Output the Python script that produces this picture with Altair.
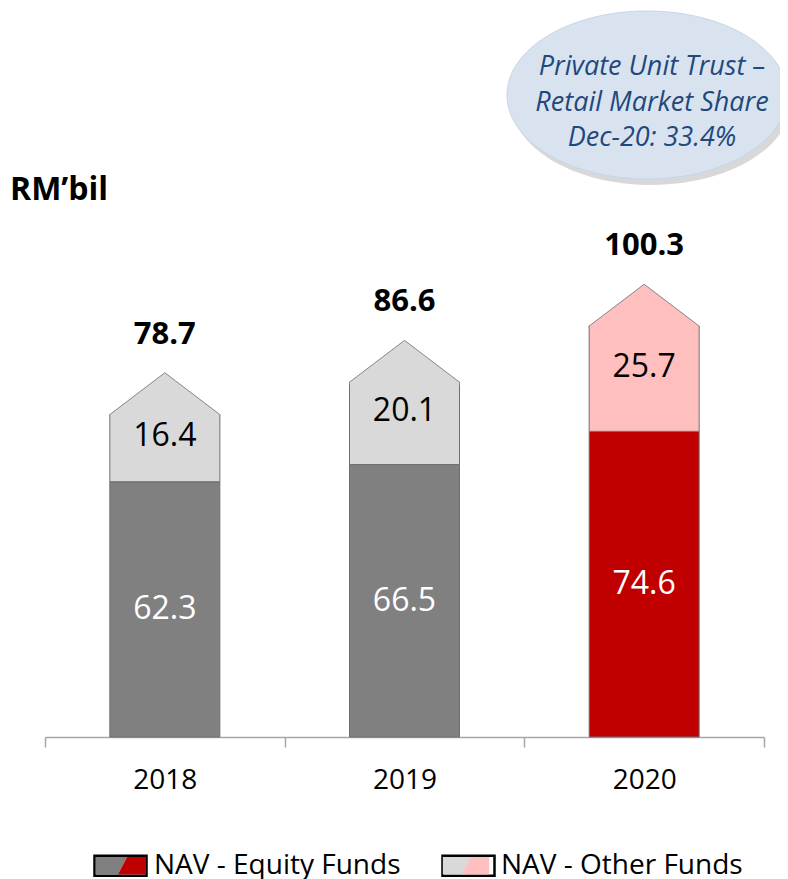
import altair as alt
import pandas as pd

# ---------------- data ----------------
years = ["2018", "2019", "2020"]
equity = [62.3, 66.5, 74.6]
other = [16.4, 20.1, 25.7]
totals = [78.7, 86.6, 100.3]
series = ["NAV - Equity Funds", "NAV - Other Funds"]
callout_lines = ["Private Unit Trust –", "Retail Market Share", "Dec-20: 33.4%"]
unit_label = ["RM’bil"]
highlight_year = "2020"

# ---------------- style ----------------
FONT = "Open Sans"
GRAY_EQ, GRAY_OT = "#808080", "#d9d9d9"
RED_EQ, RED_OT = "#c00000", "#ffbfbf"

ROOF = "M-1,0.04L-1,0L0,-0.76L1,0L1,0.04"
r = 0.6
k = 0.5523
ELLIPSE = (f"M1,0C1,{k*r:.4f} {k},{r} 0,{r}C{-k},{r} -1,{k*r:.4f} -1,0"
           f"C-1,{-k*r:.4f} {-k},{-r} 0,{-r}C{k},{-r} 1,{-k*r:.4f} 1,0Z")
H = 0.34
LEFT = f"M-0.95,{-H}L0.25,{-H}L-0.1,{H}L-0.95,{H}Z"
RIGHT = f"M0.25,{-H}L0.95,{-H}L0.95,{H}L-0.1,{H}Z"
RECT = "M-1,-0.385L1,-0.385L1,0.385L-1,0.385Z"

rows = []
for yr, e, o, t in zip(years, equity, other, totals):
    hi = yr == highlight_year
    rows.append(dict(year=yr, start=0.0, end=e, hex=RED_EQ if hi else GRAY_EQ))
    rows.append(dict(year=yr, start=e, end=t, hex=RED_OT if hi else GRAY_OT))
bars_df = pd.DataFrame(rows)

tot_df = pd.DataFrame(dict(year=years, equity=equity, other=other, total=totals,
                           hex=[RED_OT if y == highlight_year else GRAY_OT for y in years]))
tot_df["eq_mid"] = tot_df["equity"] / 2
tot_df["ot_mid"] = (tot_df["equity"] + tot_df["total"]) / 2

one_df = pd.DataFrame({"t": unit_label})
leg_df = pd.DataFrame({"s1": series, "s2": series, "s3": series})

# ---------------- chart ----------------
x_enc = alt.X("year:N",
              scale=alt.Scale(domain=years, paddingInner=0, paddingOuter=0),
              axis=alt.Axis(title=None, labelAngle=0, labelFont=FONT, labelFontSize=28,
                            labelColor="#000000", domainColor="#a6a6a6", domainWidth=1.5,
                            tickColor="#a6a6a6", tickWidth=1.5, tickSize=10,
                            tickBand="extent", labelPadding=19, grid=False))
y_scale = alt.Scale(domain=[0, 175], nice=False, zero=True)

bars = alt.Chart(bars_df).mark_bar(width=110, stroke="#6f6f6f", strokeWidth=1).encode(
    x=x_enc,
    y=alt.Y("start:Q", scale=y_scale, axis=None),
    y2="end:Q",
    color=alt.Color("hex:N", scale=None),
)

roof = alt.Chart(tot_df).mark_point(shape=ROOF, size=12100, filled=True, opacity=1,
                                    stroke="#858585", strokeWidth=1).encode(
    x="year:N", y="total:Q", color=alt.Color("hex:N", scale=None))

eq_txt = alt.Chart(tot_df).mark_text(font=FONT, fontSize=32, color="white",
                                     baseline="middle").encode(
    x="year:N", y="eq_mid:Q", text=alt.Text("equity:Q", format=".1f"))

ot_txt = alt.Chart(tot_df).mark_text(font=FONT, fontSize=32, color="black",
                                     baseline="middle", dy=-12).encode(
    x="year:N", y="ot_mid:Q", text=alt.Text("other:Q", format=".1f"))

tot_txt = alt.Chart(tot_df).mark_text(font=FONT, fontSize=31, fontWeight="bold",
                                      color="black", baseline="middle", dy=-80).encode(
    x="year:N", y="total:Q", text=alt.Text("total:Q", format=".1f"))

title_txt = alt.Chart(one_df).mark_text(font=FONT, fontSize=32, fontWeight="bold",
                                        align="left", baseline="alphabetic",
                                        color="black").encode(
    x=alt.value(-35), y=alt.value(180), text="t:N")

shadow = alt.Chart(one_df).mark_point(shape=ELLIPSE, size=78400, filled=True,
                                      opacity=0.3, color="#7f7f7f").encode(
    x=alt.value(606), y=alt.value(81))

ellipse = alt.Chart(one_df).mark_point(shape=ELLIPSE, size=78400, filled=True,
                                       opacity=1, color="#d9e3f0", stroke="#c8d5e8",
                                       strokeWidth=1).encode(
    x=alt.value(602), y=alt.value(75))

callout = alt.Chart(one_df).mark_text(font=FONT, fontSize=27, fontStyle="italic",
                                      color="#1f497d", baseline="middle", align="center",
                                      lineHeight=35.5).encode(
    x=alt.value(607), y=alt.value(47), text=alt.value(callout_lines))

common = dict(orient="none", legendX=48, legendY=818, direction="horizontal",
              columns=2, title=None, labelFont=FONT, labelFontSize=28,
              labelColor="#000000", labelLimit=600, labelOffset=6, columnPadding=36,
              padding=0, symbolSize=2704, symbolStrokeWidth=2.5)

legA = alt.Chart(leg_df).mark_point(filled=True, opacity=1).encode(
    fill=alt.Fill("s1:N", scale=alt.Scale(domain=series, range=[GRAY_EQ, GRAY_OT]),
                  legend=alt.Legend(symbolType=LEFT, symbolStrokeColor="transparent", **common))
).transform_filter("false")

legB = alt.Chart(leg_df).mark_point(filled=True, opacity=1).encode(
    fill=alt.Fill("s2:N", scale=alt.Scale(domain=series, range=[RED_EQ, RED_OT]),
                  legend=alt.Legend(symbolType=RIGHT, symbolStrokeColor="transparent",
                                    labelOpacity=0, **common))
).transform_filter("false")

legC = alt.Chart(leg_df).mark_point(filled=False, opacity=1).encode(
    stroke=alt.Stroke("s3:N", scale=alt.Scale(domain=series, range=["#000000", "#000000"]),
                      legend=alt.Legend(symbolType=RECT, symbolFillColor="transparent",
                                        labelOpacity=0, **common))
).transform_filter("false")

chart = alt.layer(
    bars, roof, eq_txt, ot_txt, tot_txt, title_txt, shadow, ellipse, callout,
    legA, legB, legC
).resolve_scale(fill="independent").properties(
    width=719, height=717,
    autosize=alt.AutoSizeParams(type="none"),
    padding={"left": 37, "top": 12, "right": 16, "bottom": 142},
    background="white",
).configure_view(stroke=None)

chart.save("out.html", embed_options={"renderer": "svg", "actions": False})
